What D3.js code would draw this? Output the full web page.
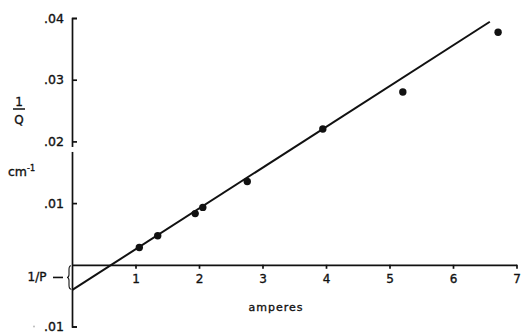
<!DOCTYPE html>
<html><head><meta charset="utf-8">
<script src="https://cdn.jsdelivr.net/npm/d3@7"></script>
<style>body{margin:0;background:#fff;} svg{display:block;} text{font-family:"DejaVu Sans",sans-serif;fill:#111;}</style>
</head><body>
<svg id="c" width="522" height="336"></svg>
<script>
// Data
const amperes = [1.06, 1.35, 1.94, 2.06, 2.76, 3.95, 5.21, 6.71];
const invQ    = [0.0028, 0.0047, 0.0083, 0.0093, 0.0135, 0.0220, 0.0280, 0.0377];
const fitIntercept = -0.0041;   // 1/P
const fitSlope = 0.00661;
const fitRange = [0, 6.58];
const xTicks = [1, 2, 3, 4, 5, 6, 7];
const yTicks = [-0.01, 0.01, 0.02, 0.03, 0.04];
const yTickLabels = [".01", ".01", ".02", ".03", ".04"];

const svg = d3.select("#c");
const x = d3.scaleLinear().domain([0, 7]).range([72, 516.5]);
const y = d3.scaleLinear().domain([-0.01, 0.04]).range([326.5, 18]);
const ink = "#111";

function styleText(sel, size) {
  sel.attr("font-size", size).attr("fill", ink).attr("stroke", ink).attr("stroke-width", 0.35)
     .style("font-family", "DejaVu Sans");
}

// Y axis
const yAxis = d3.axisLeft(y).tickValues(yTicks)
  .tickFormat((d, i) => yTickLabels[i])
  .tickSizeInner(-5).tickSizeOuter(-5).tickPadding(8);
const gy = svg.append("g").attr("transform", `translate(${x(0)},0)`).call(yAxis);
gy.selectAll("path,line").attr("stroke", ink).attr("stroke-width", 1.7);
styleText(gy.selectAll("text"), 12.5);
// small gap in the axis under .02
svg.append("rect").attr("x", x(0) - 2).attr("y", y(0.0191)).attr("width", 4).attr("height", 5).attr("fill", "#fff");
// faint minus mark
svg.append("circle").attr("cx", 34).attr("cy", y(-0.01)).attr("r", 1).attr("fill", "#bbb");

// X axis along y=0
const xAxis = d3.axisBottom(x).tickValues(xTicks).tickFormat(d3.format("d"))
  .tickSizeInner(4).tickSizeOuter(0).tickPadding(6);
const gx = svg.append("g").attr("transform", `translate(0,${y(0)})`).call(xAxis);
gx.selectAll("path,line").attr("stroke", ink).attr("stroke-width", 1.7);
styleText(gx.selectAll("text"), 12);

// Fitted line
const line = d3.line().x(d => x(d)).y(d => y(fitIntercept + fitSlope * d));
svg.append("path").attr("d", line(fitRange)).attr("fill", "none")
  .attr("stroke", ink).attr("stroke-width", 2);

// Points
svg.selectAll("circle.pt").data(amperes).join("circle").attr("class", "pt")
  .attr("cx", d => x(d)).attr("cy", (d, i) => y(invQ[i])).attr("r", 3.7).attr("fill", ink);

// 1/P label with dash and brace
const py = y(fitIntercept / 2);
styleText(svg.append("text").attr("x", 37).attr("y", py + 4).attr("text-anchor", "middle").text("1/P"), 12);
svg.append("line").attr("x1", 53).attr("x2", 63).attr("y1", py).attr("y2", py)
  .attr("stroke", ink).attr("stroke-width", 1.6);
const y0 = y(0) + 1, y1 = y(fitIntercept) - 1, bx = 69;
svg.append("path").attr("fill", "none").attr("stroke", ink).attr("stroke-width", 1.1)
  .attr("d", `M${bx+2},${y0} Q${bx},${y0} ${bx},${y0+4} L${bx},${py-3} Q${bx},${py} ${bx-2},${py} Q${bx},${py} ${bx},${py+3} L${bx},${y1-4} Q${bx},${y1} ${bx+2},${y1}`);

// Axis titles
styleText(svg.append("text").attr("x", 19).attr("y", 106).attr("text-anchor", "middle").text("1"), 12);
svg.append("line").attr("x1", 13).attr("x2", 25).attr("y1", 109).attr("y2", 109).attr("stroke", ink).attr("stroke-width", 1.5);
styleText(svg.append("text").attr("x", 19).attr("y", 124).attr("text-anchor", "middle").text("Q"), 12);
const cm = svg.append("text").attr("x", 8).attr("y", 176);
styleText(cm, 12.5);
cm.append("tspan").text("cm");
cm.append("tspan").attr("dy", -5).attr("font-size", 8).text("-1");
const amp = svg.append("text").attr("x", 276).attr("y", 311).attr("text-anchor", "middle")
  .attr("letter-spacing", 1).text("amperes");
styleText(amp, 11);
</script>
</body></html>
